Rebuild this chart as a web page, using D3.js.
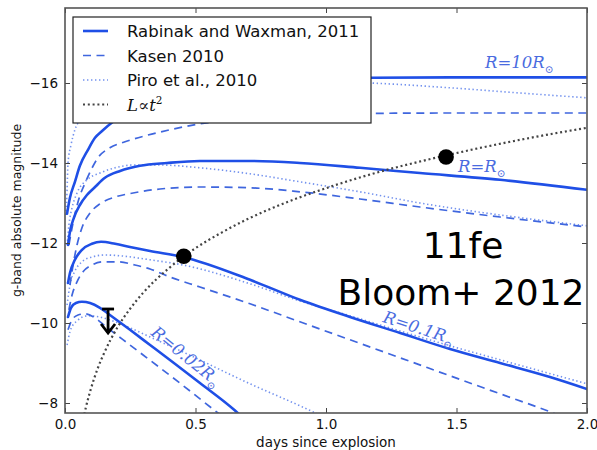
<!DOCTYPE html>
<html>
<head>
<meta charset="utf-8">
<script src="https://cdn.jsdelivr.net/npm/d3@7"></script>
<style>
  html, body { margin: 0; padding: 0; background: #fff; }
  svg { display: block; }
</style>
</head>
<body>
<svg id="chart" width="597" height="450"></svg>
<script>
// ---- data: g-band shock-cooling models, [days since explosion, absolute magnitude] ----
const radii = ["10", "1", "0.1", "0.02"];

const rabinakWaxman = {
  "10": [[0.0077,-12.73],[0.019,-13.13],[0.038,-13.53],[0.057,-13.93],[0.088,-14.33],[0.115,-14.63],[0.142,-14.8],[0.184,-15.03],[0.326,-15.45],[0.517,-15.78],[0.709,-15.95],[0.9,-16.05],[1.172,-16.13],[1.475,-16.14],[2.0,-16.14]],
  "1": [[0.0115,-11.95],[0.019,-12.28],[0.034,-12.63],[0.057,-12.95],[0.084,-13.2],[0.115,-13.4],[0.153,-13.63],[0.211,-13.8],[0.287,-13.93],[0.391,-14.0],[0.517,-14.05],[0.709,-14.05],[0.9,-14.0],[1.13,-13.88],[1.36,-13.75],[1.667,-13.58],[2.0,-13.33]],
  "0.1": [[0.0115,-11.0],[0.019,-11.25],[0.038,-11.58],[0.065,-11.83],[0.103,-11.98],[0.138,-12.03],[0.192,-11.98],[0.249,-11.9],[0.326,-11.8],[0.452,-11.65],[0.709,-11.08],[0.9,-10.58],[1.092,-10.15],[1.284,-9.75],[1.475,-9.35],[1.667,-9.0],[1.858,-8.65],[2.0,-8.35]],
  "0.02": [[0.0115,-10.15],[0.023,-10.38],[0.042,-10.5],[0.065,-10.53],[0.096,-10.5],[0.134,-10.38],[0.172,-10.2],[0.249,-9.83],[0.326,-9.45],[0.421,-8.98],[0.517,-8.5],[0.648,-7.83],[0.67,-7.7]]
};

const kasen = {
  "10": [[0.015,-11.95],[0.027,-12.38],[0.042,-12.83],[0.057,-13.18],[0.077,-13.5],[0.1,-13.83],[0.126,-14.13],[0.172,-14.38],[0.23,-14.53],[0.307,-14.68],[0.402,-14.83],[0.517,-14.98],[0.709,-15.1],[0.9,-15.18],[1.176,-15.24],[1.475,-15.25],[2.0,-15.25]],
  "1": [[0.019,-10.95],[0.031,-11.45],[0.046,-11.95],[0.065,-12.38],[0.096,-12.75],[0.134,-12.98],[0.192,-13.15],[0.261,-13.25],[0.364,-13.35],[0.517,-13.4],[0.709,-13.38],[0.9,-13.28],[1.13,-13.1],[1.36,-12.9],[1.667,-12.65],[2.0,-12.4]],
  "0.1": [[0.015,-10.33],[0.027,-10.7],[0.046,-11.03],[0.069,-11.28],[0.103,-11.45],[0.146,-11.53],[0.203,-11.53],[0.268,-11.45],[0.326,-11.35],[0.402,-11.15],[0.517,-10.9],[0.709,-10.48],[0.9,-10.03],[1.092,-9.58],[1.284,-9.13],[1.475,-8.68],[1.667,-8.23],[1.87,-7.75],[1.897,-7.68]],
  "0.02": [[0.0115,-9.83],[0.027,-10.08],[0.05,-10.2],[0.077,-10.23],[0.115,-10.13],[0.153,-9.93],[0.249,-9.45],[0.364,-8.88],[0.479,-8.3],[0.586,-7.75],[0.6,-7.68]]
};

const piro = {
  "10": [[0.004,-12.7],[0.008,-13.33],[0.0115,-14.0],[0.023,-14.45],[0.038,-14.83],[0.057,-15.08],[0.096,-15.38],[0.172,-15.65],[0.326,-15.88],[0.517,-16.0],[0.709,-16.05],[0.9,-16.05],[1.172,-16.0],[1.475,-15.88],[1.743,-15.75],[2.0,-15.63]],
  "1": [[0.008,-11.95],[0.015,-12.45],[0.027,-12.88],[0.046,-13.25],[0.084,-13.58],[0.134,-13.75],[0.192,-13.88],[0.261,-13.95],[0.364,-13.95],[0.517,-13.88],[0.709,-13.73],[0.9,-13.53],[1.13,-13.28],[1.36,-13.0],[1.667,-12.7],[2.0,-12.43]],
  "0.1": [[0.008,-10.45],[0.019,-10.95],[0.038,-11.3],[0.065,-11.53],[0.103,-11.65],[0.153,-11.7],[0.211,-11.68],[0.326,-11.58],[0.452,-11.45],[0.709,-10.98],[0.9,-10.55],[1.092,-10.18],[1.284,-9.8],[1.475,-9.43],[1.667,-9.08],[2.0,-8.48]],
  "0.02": [[0.008,-9.45],[0.019,-9.78],[0.042,-10.03],[0.088,-10.18],[0.134,-10.15],[0.192,-10.03],[0.249,-9.88],[0.326,-9.65],[0.467,-9.23],[0.709,-8.48],[0.9,-7.93],[0.966,-7.73]]
};

// power-law rise L ∝ t^2
const powerLaw = [[0.07,-7.6],[0.08,-7.89],[0.1,-8.37],[0.125,-8.86],[0.15,-9.25],[0.2,-9.88],[0.25,-10.36],[0.3,-10.76],[0.4,-11.38],[0.5,-11.87],[0.6,-12.26],[0.7,-12.6],[0.8,-12.89],[1.0,-13.37],[1.2,-13.77],[1.4,-14.1],[1.6,-14.39],[1.8,-14.65],[2.0,-14.88]];

// SN 2011fe detections and the earlier upper limit
const detections = [[0.455,-11.67],[1.46,-14.15]];
const upperLimit = [[0.165,-10.35]];

const xTicks = [0.0, 0.5, 1.0, 1.5, 2.0];
const yTicks = [-16, -14, -12, -10, -8];

const legendLabels = ["Rabinak and Waxman, 2011", "Kasen 2010", "Piro et al., 2010"];

// ---- layout ----
const svg = d3.select("#chart");
const W = 597, H = 450;
const plot = { left: 65, right: 587, top: 8, bottom: 413 };

const x = d3.scaleLinear().domain([0, 2]).range([plot.left, plot.right]);
const y = d3.scaleLinear().domain([-7.75, -17.875]).range([plot.bottom, plot.top]);

const blueSolid = "#1f4fe6";
const blueDash = "#3f66de";
const blueDot = "#7392ee";
const labelBlue = "#4a6be0";

svg.append("rect").attr("width", W).attr("height", H).attr("fill", "#fff");

svg.append("defs").append("clipPath").attr("id", "plotClip")
  .append("rect")
  .attr("x", plot.left).attr("y", plot.top)
  .attr("width", plot.right - plot.left).attr("height", plot.bottom - plot.top);

const line = d3.line().x(d => x(d[0])).y(d => y(d[1])).curve(d3.curveMonotoneX);

const g = svg.append("g").attr("clip-path", "url(#plotClip)");

// model families
const families = [
  { data: piro, color: blueDot, width: 1.6, dash: "1.4,2.6" },
  { data: kasen, color: blueDash, width: 1.7, dash: "8,5.5" },
  { data: rabinakWaxman, color: blueSolid, width: 2.6, dash: null }
];
families.forEach(f => {
  radii.forEach(r => {
    g.append("path")
      .attr("d", line(f.data[r]))
      .attr("fill", "none")
      .attr("stroke", f.color)
      .attr("stroke-width", f.width)
      .attr("stroke-dasharray", f.dash)
      .attr("stroke-linecap", f.dash ? "butt" : "round");
  });
});

g.append("path")
  .attr("d", line(powerLaw))
  .attr("fill", "none")
  .attr("stroke", "#444")
  .attr("stroke-width", 2.2)
  .attr("stroke-dasharray", "2,2.8");

// detections
g.selectAll("circle.det").data(detections).enter().append("circle")
  .attr("class", "det")
  .attr("cx", d => x(d[0])).attr("cy", d => y(d[1]))
  .attr("r", 7.8).attr("fill", "#000");

// upper limit: bar with a downward arrow
upperLimit.forEach(d => {
  const cx = x(d[0]), cy = y(d[1]);
  const ul = svg.append("g").attr("stroke", "#000").attr("stroke-width", 2.8).attr("fill", "none");
  ul.append("line").attr("x1", cx - 6).attr("x2", cx + 6).attr("y1", cy).attr("y2", cy);
  ul.append("line").attr("x1", cx).attr("x2", cx).attr("y1", cy).attr("y2", cy + 24);
  ul.append("path").attr("d", `M${cx - 7},${cy + 15} L${cx},${cy + 24} L${cx + 7},${cy + 15}`);
});

// curve labels (math-style)
const radiusLabels = [
  { r: "10", t: 1.609, m: -16.38, angle: 0 },
  { r: null, t: 1.506, m: -13.78, angle: 0 },
  { r: "0.1", t: 1.215, m: -10.03, angle: 18 },
  { r: "0.02", t: 0.326, m: -9.72, angle: 39 }
];
radiusLabels.forEach(l => {
  const tx = svg.append("text")
    .attr("transform", `translate(${x(l.t)},${y(l.m)}) rotate(${l.angle})`)
    .attr("font-family", "'DejaVu Serif', 'Liberation Serif', serif")
    .attr("font-size", 16.5)
    .attr("fill", labelBlue);
  tx.append("tspan").attr("font-style", "italic").text("R");
  tx.append("tspan").text("=");
  if (l.r) tx.append("tspan").attr("font-style", "italic").text(l.r);
  tx.append("tspan").attr("font-style", "italic").text("R");
  tx.append("tspan").attr("font-size", 10.5).attr("dy", 5).text("⊙");
});

// frame and ticks
const frame = svg.append("g");
const tickLen = 5;
const axisStyle = sel => {
  sel.select(".domain").remove();
  sel.selectAll(".tick line").attr("stroke", "#444").attr("stroke-width", 1);
  sel.selectAll(".tick text")
    .attr("font-family", "'DejaVu Sans', sans-serif")
    .attr("font-size", 13.5)
    .attr("fill", "#111");
};
const fmtX = d3.format(".1f");
const fmtY = d => (d < 0 ? "\u2212" + Math.abs(d) : String(d));

frame.append("g").attr("transform", `translate(0,${plot.bottom})`)
  .call(d3.axisBottom(x).tickValues(xTicks).tickFormat(fmtX).tickSize(-tickLen).tickPadding(6))
  .call(axisStyle);
frame.append("g").attr("transform", `translate(0,${plot.top})`)
  .call(d3.axisTop(x).tickValues(xTicks).tickFormat("").tickSize(-tickLen))
  .call(axisStyle);
frame.append("g").attr("transform", `translate(${plot.left},0)`)
  .call(d3.axisLeft(y).tickValues(yTicks).tickFormat(fmtY).tickSize(-tickLen).tickPadding(7))
  .call(axisStyle);
frame.append("g").attr("transform", `translate(${plot.right},0)`)
  .call(d3.axisRight(y).tickValues(yTicks).tickFormat("").tickSize(-tickLen))
  .call(axisStyle);

frame.append("rect")
  .attr("x", plot.left).attr("y", plot.top)
  .attr("width", plot.right - plot.left).attr("height", plot.bottom - plot.top)
  .attr("fill", "none").attr("stroke", "#555").attr("stroke-width", 1.6);

// axis titles
svg.append("text")
  .attr("x", (plot.left + plot.right) / 2).attr("y", 447)
  .attr("text-anchor", "middle")
  .attr("font-family", "'DejaVu Sans', sans-serif").attr("font-size", 13.5)
  .attr("fill", "#111")
  .text("days since explosion");
svg.append("text")
  .attr("transform", `translate(21,${(plot.top + plot.bottom) / 2}) rotate(-90)`)
  .attr("text-anchor", "middle")
  .attr("font-family", "'DejaVu Sans', sans-serif").attr("font-size", 12.5)
  .attr("fill", "#111")
  .text("g-band absolute magnitude");

// legend
const leg = svg.append("g");
leg.append("rect")
  .attr("x", 73).attr("y", 17).attr("width", 298).attr("height", 106)
  .attr("fill", "#fff").attr("stroke", "#222").attr("stroke-width", 1.2);
const legStyles = [
  { color: blueSolid, width: 2.6, dash: null },
  { color: blueDash, width: 1.7, dash: "8,5.5" },
  { color: blueDot, width: 1.6, dash: "1.4,2.6" }
];
legendLabels.forEach((lab, i) => {
  const yy = 31 + i * 24.5;
  leg.append("line").attr("x1", 83).attr("x2", 108).attr("y1", yy).attr("y2", yy)
    .attr("stroke", legStyles[i].color).attr("stroke-width", legStyles[i].width)
    .attr("stroke-dasharray", legStyles[i].dash);
  leg.append("text").attr("x", 127).attr("y", yy + 6)
    .attr("font-family", "'DejaVu Sans', sans-serif").attr("font-size", 16.5)
    .attr("fill", "#111").text(lab);
});
{
  const yy = 31 + 3 * 24.5;
  leg.append("line").attr("x1", 83).attr("x2", 108).attr("y1", yy).attr("y2", yy)
    .attr("stroke", "#444").attr("stroke-width", 2.2).attr("stroke-dasharray", "2,2.8");
  const t = leg.append("text").attr("x", 127).attr("y", yy + 6)
    .attr("font-family", "'DejaVu Serif', 'Liberation Serif', serif").attr("font-size", 16.5)
    .attr("fill", "#111");
  t.append("tspan").attr("font-style", "italic").text("L");
  t.append("tspan").text("\u221D");
  t.append("tspan").attr("font-style", "italic").text("t");
  t.append("tspan").attr("font-size", 10.5).attr("dy", -7).text("2");
}

// object annotation
const note = svg.append("g")
  .attr("font-family", "'DejaVu Sans', Verdana, sans-serif")
  .attr("font-size", 36).attr("fill", "#000").attr("text-anchor", "middle");
note.append("text").attr("x", 463).attr("y", 258).text("11fe");
note.append("text").attr("x", 461).attr("y", 305).text("Bloom+ 2012");
</script>
</body>
</html>
